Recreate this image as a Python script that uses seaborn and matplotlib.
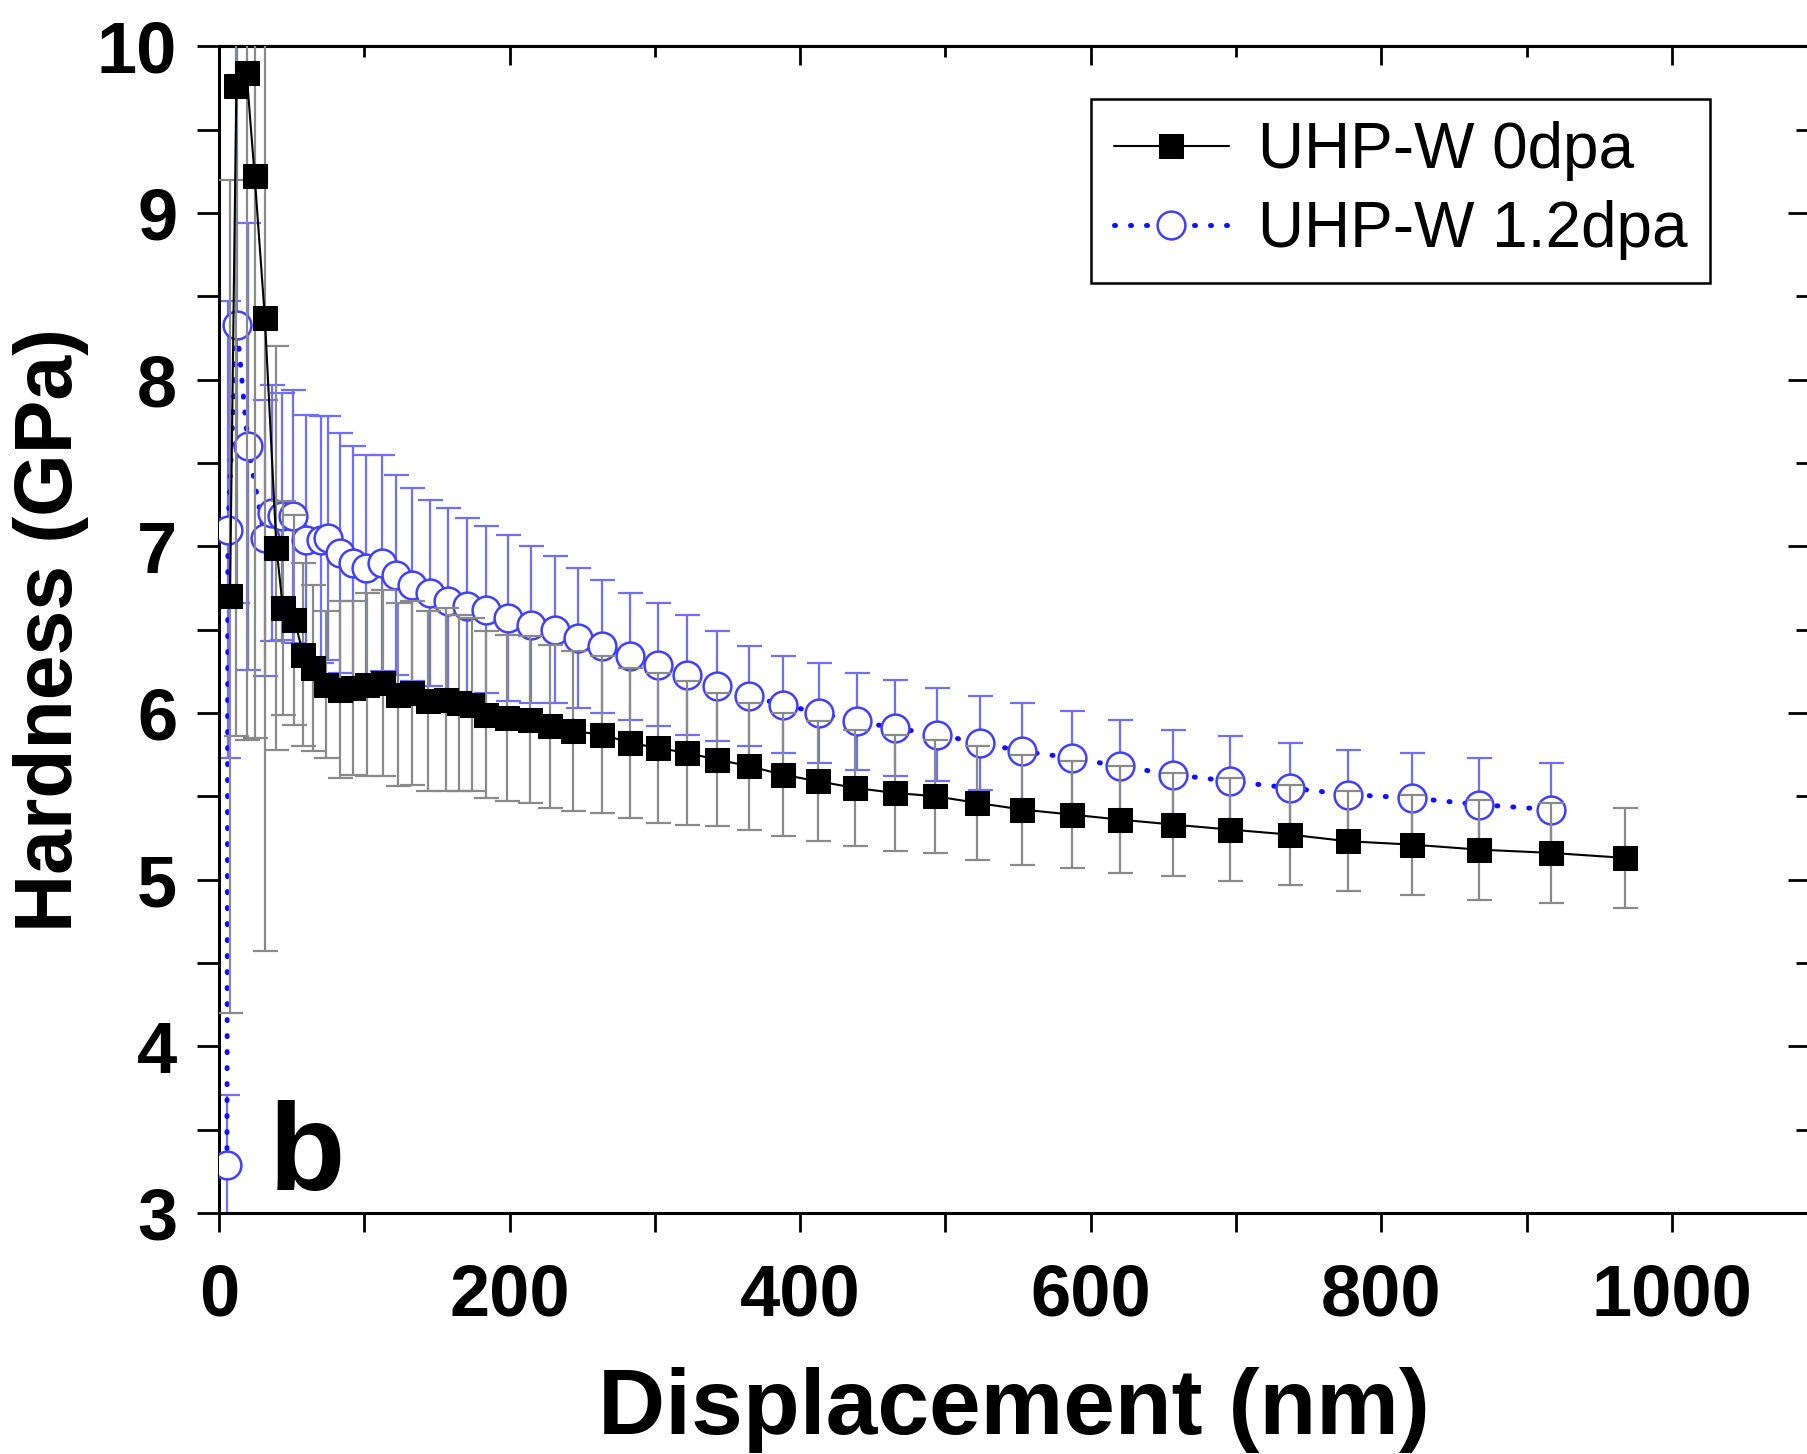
import numpy as np
import pandas as pd
import matplotlib
matplotlib.use("Agg")
import matplotlib.pyplot as plt
import seaborn as sns
from matplotlib.ticker import MultipleLocator

# ---------------- data ----------------
disp_0dpa = [7.6, 12, 19, 24.6, 31.6, 39.6, 44, 52, 58, 65,
             74, 83, 92, 102, 113, 123, 133, 144, 156, 165,
             174, 184, 198, 214, 228, 244, 264, 283, 302, 322,
             343, 365, 388, 412, 438, 465, 493, 522, 553, 587,
             620, 657, 696, 737, 777, 821, 867, 917, 968]
hard_0dpa = [6.7, 9.76, 9.84, 9.22, 8.37, 6.99, 6.63, 6.56, 6.35, 6.27,
             6.17, 6.14, 6.15, 6.17, 6.18, 6.11, 6.12, 6.07, 6.08, 6.06,
             6.05, 5.99, 5.97, 5.96, 5.92, 5.89, 5.87, 5.82, 5.79, 5.76,
             5.72, 5.68, 5.63, 5.59, 5.55, 5.52, 5.50, 5.46, 5.42, 5.39,
             5.36, 5.33, 5.30, 5.27, 5.23, 5.21, 5.18, 5.16, 5.13]
err_0dpa = [2.5, 3.9, 4.0, 3.37, 3.8, 1.21, 0.64, 0.63, 0.55, 0.5,
            0.44, 0.53, 0.52, 0.55, 0.56, 0.55, 0.55, 0.54, 0.55, 0.53,
            0.52, 0.5, 0.5, 0.5, 0.49, 0.48, 0.47, 0.45, 0.45, 0.43,
            0.4, 0.38, 0.37, 0.36, 0.35, 0.35, 0.34, 0.34, 0.33, 0.32,
            0.32, 0.31, 0.31, 0.3, 0.3, 0.3, 0.3, 0.3, 0.3]

disp_12dpa = [5.5, 6.2, 12.3, 20, 31.6, 36.5, 43.5, 51, 60, 70,
              75, 83, 92, 101, 112, 122, 133, 145, 158, 171,
              184, 199, 215, 231, 247, 264, 283, 302, 322, 343,
              365, 388, 413, 439, 465, 494, 524, 553, 587, 620,
              657, 696, 737, 777, 821, 867, 917]
hard_12dpa = [3.29, 7.1, 8.33, 7.6, 7.05, 7.2, 7.18, 7.18, 7.04, 7.04,
              7.05, 6.96, 6.9, 6.87, 6.9, 6.83, 6.77, 6.72, 6.67, 6.64,
              6.62, 6.57, 6.53, 6.5, 6.45, 6.4, 6.34, 6.29, 6.23, 6.16,
              6.1, 6.05, 6.0, 5.95, 5.91, 5.87, 5.82, 5.77, 5.73, 5.68,
              5.63, 5.59, 5.55, 5.51, 5.49, 5.45, 5.42]
err_12dpa = [0.42, 1.37, 1.67, 1.34, 0.83, 0.77, 0.74, 0.76, 0.75, 0.74,
             0.73, 0.72, 0.7, 0.68, 0.65, 0.6, 0.58, 0.56, 0.56, 0.53,
             0.5, 0.5, 0.47, 0.44, 0.42, 0.4, 0.38, 0.37, 0.36, 0.33,
             0.3, 0.29, 0.3, 0.29, 0.29, 0.28, 0.28, 0.29, 0.28, 0.28,
             0.27, 0.27, 0.27, 0.27, 0.27, 0.28, 0.28]

labels = ["UHP-W 0dpa", "UHP-W 1.2dpa"]
x_ticks = [0, 200, 400, 600, 800, 1000]
y_ticks = [3, 4, 5, 6, 7, 8, 9, 10]

df0 = pd.DataFrame({"x": disp_0dpa, "y": hard_0dpa})
df1 = pd.DataFrame({"x": disp_12dpa, "y": hard_12dpa})

# ---------------- style ----------------
sns.set_style("ticks")
plt.rcParams["font.family"] = ["Liberation Sans", "DejaVu Sans"]
plt.rcParams["text.color"] = "black"
plt.rcParams["axes.labelcolor"] = "black"
plt.rcParams["xtick.color"] = "black"
plt.rcParams["ytick.color"] = "black"
plt.rcParams["axes.edgecolor"] = "black"

fig = plt.figure(figsize=(18.08, 14.54), dpi=100)
ax = fig.add_axes([0.1211, 0.1658, 1.001 - 0.1211, 0.8024])

# 1.2 dpa series (drawn first)
ax.errorbar(disp_12dpa, hard_12dpa, yerr=err_12dpa, fmt="none",
            ecolor="#6f6fff", elinewidth=1.6, capsize=9, capthick=1.6, zorder=2)
sns.lineplot(data=df1, x="x", y="y", ax=ax, sort=False, estimator=None,
             color="#1010ff", linewidth=3.6, linestyle=(0, (0.2, 3.0)),
             dash_capstyle="round", marker="o", markersize=20,
             markerfacecolor="white", markeredgecolor="#4040ff",
             markeredgewidth=1.8, label=labels[1], zorder=3)

# 0 dpa series
ax.errorbar(disp_0dpa, hard_0dpa, yerr=err_0dpa, fmt="none",
            ecolor="#8a8a8a", elinewidth=1.6, capsize=9, capthick=1.6, zorder=4)
sns.lineplot(data=df0, x="x", y="y", ax=ax, sort=False, estimator=None,
             color="black", linewidth=1.5, marker="s", markersize=17,
             markerfacecolor="black", markeredgecolor="black",
             label=labels[0], zorder=5)

ax.set_xlim(0, 1095)
ax.set_ylim(3, 10)
ax.set_xticks(x_ticks)
ax.set_yticks(y_ticks)
ax.xaxis.set_minor_locator(MultipleLocator(100))
ax.yaxis.set_minor_locator(MultipleLocator(0.5))

for s in ax.spines.values():
    s.set_linewidth(2.2)
    s.set_color("black")
    s.set_visible(True)

ax.tick_params(axis="both", which="both", width=2, labelsize=52, colors="black")
ax.tick_params(axis="x", which="major", direction="out", length=14, pad=22,
               top=False)
ax.tick_params(axis="x", which="minor", direction="out", length=14, top=False)
ax.tick_params(axis="y", which="major", direction="out", length=16, pad=14,
               right=False)
ax.tick_params(axis="y", which="minor", direction="out", length=16, right=False)
for lab in ax.get_xticklabels() + ax.get_yticklabels():
    lab.set_fontweight("bold")

# inward ticks on top and right (secondary axes)
axt = ax.secondary_xaxis("top")
axt.set_xticks(x_ticks)
axt.xaxis.set_minor_locator(MultipleLocator(100))
axt.tick_params(which="major", direction="in", length=14, width=2, labeltop=False)
axt.tick_params(which="minor", direction="in", length=8, width=2)
axt.set_xticklabels([])
axt.spines["top"].set_linewidth(2.2)
axr = ax.secondary_yaxis("right")
axr.set_yticks(y_ticks)
axr.yaxis.set_minor_locator(MultipleLocator(0.5))
axr.tick_params(which="major", direction="in", length=16, width=2, labelright=False)
axr.tick_params(which="minor", direction="in", length=10, width=2)
axr.set_yticklabels([])

ax.set_xlabel("Displacement (nm)", fontsize=67, fontweight="bold", labelpad=26)
ax.set_ylabel("Hardness (GPa)", fontsize=58, fontweight="bold", labelpad=6)

ax.text(0.031, 0.02, "b", transform=ax.transAxes, fontsize=90,
        fontweight="bold", ha="left", va="baseline")

handles, labs = ax.get_legend_handles_labels()
order = [labs.index(labels[0]), labs.index(labels[1])]
leg = ax.legend([handles[i] for i in order], [labs[i] for i in order],
                loc="upper right", bbox_to_anchor=(0.937, 0.955),
                fontsize=46, frameon=True, fancybox=False, framealpha=1,
                edgecolor="black", handlelength=1.8, handletextpad=0.45,
                labelspacing=0.3, borderpad=0.35, borderaxespad=0)
leg.get_frame().set_linewidth(1.8)

fig.savefig("out.png", dpi=100)
